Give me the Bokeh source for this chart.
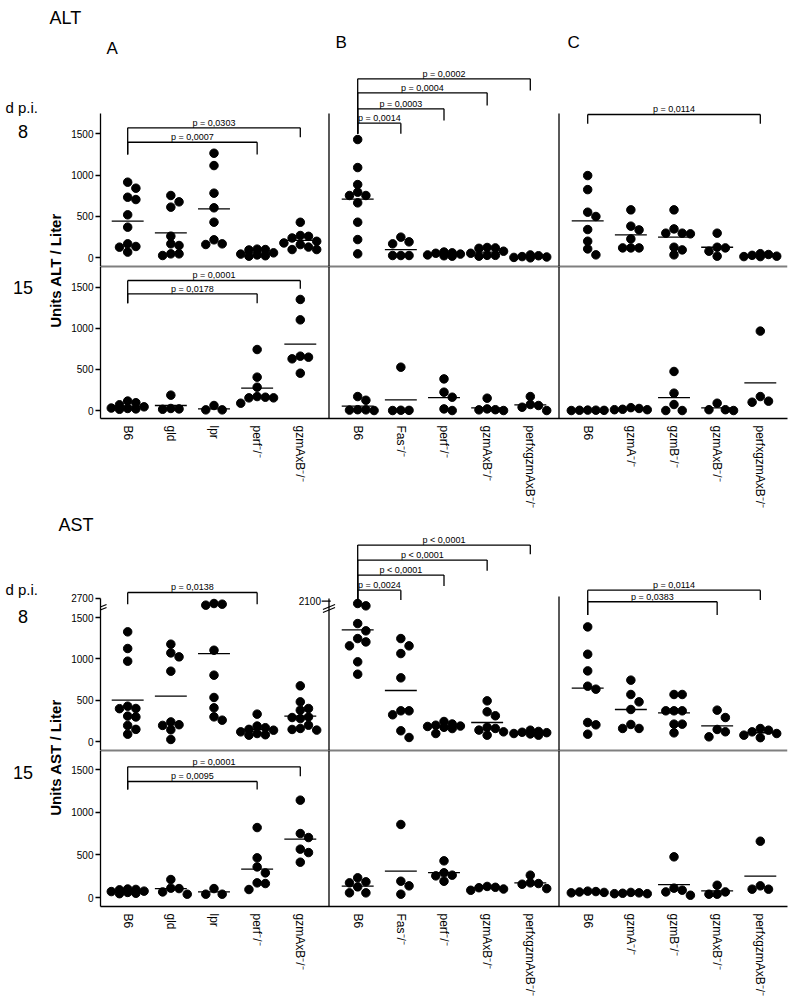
import math
from bokeh.plotting import figure
from bokeh.models import FactorRange, Range1d, ColumnDataSource, Span, FixedTicker, Arrow
from bokeh.layouts import column, row
from bokeh.core.properties import value
from bokeh.embed import file_html
from bokeh.resources import INLINE

# ---------------------------------------------------------------- data
GROUPS = ["A", "B", "C"]
CATS = {
    "A": ["B6", "gld", "lpr", "perf⁻/⁻", "gzmAxB⁻/⁻"],
    "B": ["B6", "Fas⁻/⁻", "perf⁻/⁻", "gzmAxB⁻/⁻", "perfxgzmAxB⁻/⁻"],
    "C": ["B6", "gzmA⁻/⁻", "gzmB⁻/⁻", "gzmAxB⁻/⁻", "perfxgzmAxB⁻/⁻"],
}
Y_TICKS = [0, 500, 1000, 1500]

# ALT, day 8
ALT8_A = [[915, 842, 733, 705, 520, 371, 169, 137, 129, 69],
          [754, 677, 613, 262, 169, 149, 48, 28, 48],
          [1265, 1116, 782, 605, 431, 218, 161, 169],
          [105, 95, 100, 60, 45, 35, 25, 20],
          [430, 270, 260, 240, 200, 180, 160, 130, 100, 100]]
ALT8_B = [[1431, 1092, 886, 794, 754, 754, 665, 431, 221, 48],
          [193, 169, 250, 28, 28, 28],
          [70, 60, 55, 45, 35, 25, 20],
          [125, 115, 120, 80, 55, 30, 20, 30],
          [35, 25, 15, 10, 5, 0]]
ALT8_C = [[995, 825, 552, 500, 342, 201, 108, 36],
          [580, 383, 338, 229, 120, 120, 120],
          [580, 350, 298, 290, 298, 128, 96, 36],
          [298, 128, 120, 80, 20],
          [50, 40, 30, 20, 15, 15]]
ALT8_MEAN_A = [443, 302, 592, 60, 210]
ALT8_MEAN_B = [709, 100, 44, 68, 15]
ALT8_MEAN_C = [447, 278, 250, 128, 28]

# ALT, day 15
ALT15_A = [[115, 95, 70, 45, 30, 25, 20, 15],
           [187, 25, 15, 20],
           [61, 8, 8],
           [742, 406, 284, 170, 162, 154, 154, 89],
           [1351, 1103, 661, 649, 629, 454]]
ALT15_B = [[170, 125, 10, 0, 5, 8],
           [527, 3, 0, 2],
           [385, 223, 162, 20, 0],
           [150, 20, 10, 8, 0],
           [170, 73, 61, 40, 0]]
ALT15_C = [[5, 3, 2, 0, 4],
           [35, 25, 15, 10, 10],
           [475, 211, 73, 0, 0],
           [89, 10, 10, 0],
           [966, 170, 114, 101]]
ALT15_MEAN_A = [53, 61, 20, 272, 807]
ALT15_MEAN_B = [53, 130, 158, 32, 69]
ALT15_MEAN_C = [3, 20, 158, 32, 337]

# AST, day 8
AST8_A = [[1327, 1126, 973, 430, 402, 400, 310, 300, 197, 150, 92],
          [1178, 1073, 1025, 852, 240, 206, 198, 145, 28],
          [2185, 2115, 2015, 1105, 804, 535, 410, 301, 261],
          [334, 190, 170, 150, 140, 120, 100, 85, 80],
          [675, 482, 402, 382, 300, 293, 280, 200, 161, 149, 141]]
AST8_B = [[1956, 1811, 1427, 1339, 1246, 1206, 1158, 965, 816],
          [1246, 1158, 1065, 772, 374, 374, 326, 133, 52],
          [245, 215, 200, 190, 185, 175, 160, 100],
          [494, 362, 314, 175, 161, 141, 120, 80],
          [140, 125, 115, 110, 100, 95, 80]]
AST8_C = [[1387, 1057, 856, 671, 635, 233, 205, 92],
          [744, 571, 482, 390, 209, 161, 161],
          [571, 571, 374, 374, 374, 213, 213, 108],
          [382, 293, 149, 121, 60],
          [160, 140, 120, 100, 80, 50]]
AST8_MEAN_A = [502, 551, 1065, 149, 310]
AST8_MEAN_B = [1351, 619, 189, 233, 109]
AST8_MEAN_C = [647, 390, 350, 193, 109]

# AST, day 15
AST15_A = [[100, 95, 90, 75, 70, 60, 50, 45],
           [211, 110, 105, 66, 39],
           [105, 39, 39],
           [820, 465, 359, 289, 172, 164, 94],
           [1141, 750, 703, 567, 527, 414]]
AST15_B = [[231, 184, 172, 125, 55, 55],
           [856, 191, 137, 39],
           [430, 290, 262, 254, 191],
           [130, 120, 115, 100, 85],
           [262, 172, 164, 156, 105]]
AST15_C = [[75, 70, 65, 60, 55],
           [60, 55, 50, 45, 45],
           [477, 110, 86, 66, 27],
           [144, 66, 39, 39],
           [660, 137, 98, 98]]
AST15_MEAN_A = [74, 105, 66, 332, 684]
AST15_MEAN_B = [133, 309, 293, 113, 172]
AST15_MEAN_C = [66, 51, 152, 78, 250]

# AST day 8 broken axis: values above 1600 are compressed up to the top label
BREAK_AT = 1600
AST8_BREAK = {"A": (2700, 1730), "B": (2100, 1697)}

# significance brackets: group, from, to, bracket level, leg end, label
ALT8_BR = [("A", 0, 4, 1573, 1459, "p = 0,0303"),
           ("A", 0, 3, 1398, 1249, "p = 0,0007"),
           ("B", 0, 4, 2165, 2024, "p = 0,0002"),
           ("B", 0, 3, 1996, 1842, "p = 0,0004"),
           ("B", 0, 2, 1802, 1661, "p = 0,0003"),
           ("B", 0, 1, 1629, 1500, "p = 0,0014"),
           ("C", 0, 4, 1734, 1621, "p = 0,0114")]
ALT15_BR = [("A", 0, 4, 1582, 1481, "p = 0,0001"),
            ("A", 0, 3, 1420, 1306, "p = 0,0178")]
AST8_BR = [("A", 0, 3, 1802, 1661, "p = 0,0138"),
           ("B", 0, 4, 2374, 2265, "p < 0,0001"),
           ("B", 0, 3, 2193, 2064, "p < 0,0001"),
           ("B", 0, 2, 2012, 1879, "p < 0,0001"),
           ("B", 0, 1, 1830, 1710, "p = 0,0024"),
           ("C", 0, 4, 1830, 1710, "p = 0,0114"),
           ("C", 0, 3, 1690, 1529, "p = 0,0383")]
AST15_BR = [("A", 0, 4, 1532, 1422, "p = 0,0001"),
            ("A", 0, 3, 1360, 1266, "p = 0,0095")]

# ---------------------------------------------------------------- layout
FONT = "Liberation Sans"
FW = 687
PAD = 0.13
GPAD = 0.33
UNITS = 15 + 2 * GPAD + 2 * PAD
XPX = FW / UNITS
XA = -PAD
XB = 5 + GPAD / 2
XC = 10 + 1.5 * GPAD
LW = 1.3


def make_xrange():
    return FactorRange(factors=[(g, c) for g in GROUPS for c in CATS[g]],
                       group_padding=GPAD, factor_padding=0.0,
                       range_padding=PAD, range_padding_units="absolute")


def swarm(vals, pxu, step=0.19, dmin=7.5):
    cands = [0.0, step, -step, 2 * step, -2 * step]
    placed = []
    res = [0.0] * len(vals)
    for i in sorted(range(len(vals)), key=lambda k: -vals[k]):
        ypx = vals[i] * pxu
        best, bestd = 0.0, -1.0
        for c in cands:
            d = min([math.hypot((c - xo) * XPX, ypx - yp) for xo, yp in placed] or [1e9])
            if d >= dmin:
                best = c
                break
            if d > bestd:
                best, bestd = c, d
        placed.append((best, ypx))
        res[i] = best
    return res


def data_fig(xr, y0, y1, fh, bottom, xaxis):
    p = figure(x_range=xr, y_range=Range1d(y0, y1), frame_width=FW, frame_height=fh,
               min_border_left=34, min_border_right=5, min_border_top=0,
               min_border_bottom=bottom,
               x_axis_location="below" if xaxis else None, y_axis_location="left",
               toolbar_location=None, tools="", output_backend="svg")
    p.outline_line_color = None
    p.xgrid.visible = False
    p.ygrid.visible = False
    if xaxis:
        xa = p.xaxis[0]
        xa.major_label_orientation = -math.pi / 2
        xa.major_tick_out = 0
        xa.major_tick_in = 0
        xa.major_label_standoff = 7
        xa.major_label_text_font = FONT
        xa.major_label_text_font_size = "12px"
        xa.major_label_text_color = "black"
        xa.group_text_font_size = "0px"
        xa.group_text_color = None
        xa.separator_line_color = None
        xa.axis_line_width = LW
    return p


def style_y(p, ticks, bounds=None, overrides=None):
    ya = p.yaxis[0]
    ya.ticker = FixedTicker(ticks=ticks)
    if bounds is not None:
        ya.bounds = bounds
    if overrides:
        ya.major_label_overrides = overrides
    ya.major_tick_out = 5
    ya.major_tick_in = 0
    ya.minor_tick_out = 0
    ya.minor_tick_in = 0
    ya.major_label_standoff = 2
    ya.major_label_text_font = FONT
    ya.major_label_text_font_size = "10px"
    ya.major_label_text_color = "black"
    ya.axis_line_width = LW
    ya.major_tick_line_width = LW


def plot_points(p, panels, means, pxu, tf=None):
    xs, ys, x0, x1, ly = [], [], [], [], []
    for g in GROUPS:
        for i, c in enumerate(CATS[g]):
            vals = [tf(g, v) if tf else v for v in panels[g][i]]
            for v, o in zip(vals, swarm(vals, pxu)):
                xs.append((g, c, o))
                ys.append(v)
            x0.append((g, c, -0.37))
            x1.append((g, c, 0.37))
            ly.append(means[g][i])
    p.segment(x0="x0", y0="y", x1="x1", y1="y", line_color="black", line_width=LW,
              source=ColumnDataSource(dict(x0=x0, x1=x1, y=ly)))
    p.scatter(x="x", y="y", size=8.5, marker="circle", fill_color="black", line_color="black",
              source=ColumnDataSource(dict(x=xs, y=ys)))


def brackets(p, brs):
    low = {}
    for g, i0, i1, yl, yb, t in brs:
        low[g] = min(low.get(g, 1e9), yb)
    sx0, sy0, sx1, sy1, tx, ty, tt = [], [], [], [], [], [], []
    for g, i0, i1, yl, yb, t in brs:
        a = (g, CATS[g][i0])
        b = (g, CATS[g][i1])
        sx0 += [a, a, b]
        sy0 += [yl, low[g], yb]
        sx1 += [b, a, b]
        sy1 += [yl, yl, yl]
        tx.append((g, CATS[g][i0], (i1 - i0) / 2))
        ty.append(yl)
        tt.append(t)
    p.segment(x0="x0", y0="y0", x1="x1", y1="y1", line_color="black", line_width=LW,
              source=ColumnDataSource(dict(x0=sx0, y0=sy0, x1=sx1, y1=sy1)))
    p.text(x="x", y="y", text="t", source=ColumnDataSource(dict(x=tx, y=ty, t=tt)),
           text_font=value(FONT), text_font_size="9px", text_align="center",
           text_baseline="bottom", y_offset=0, text_color="black")


def dividers_top(p, y0, tops):
    p.segment(x0=[XB, XC], y0=[y0, y0], x1=[XB, XC], y1=tops, line_color="black", line_width=LW)
    p.add_layout(Span(location=y0, dimension="width", line_color="black", line_width=LW))


def dividers_bottom(p, y1):
    for x in (XB, XC):
        p.add_layout(Span(location=x, dimension="height", line_color="black", line_width=LW))
    p.add_layout(Span(location=y1, dimension="width", line_color="black", line_width=LW))


def text_fig(x0, y0, w, h):
    p = figure(width=w, height=h, x_range=Range1d(x0, x0 + w), y_range=Range1d(y0 + h, y0),
               min_border=0, x_axis_location=None, y_axis_location=None,
               toolbar_location=None, tools="", output_backend="svg")
    p.outline_line_color = None
    p.xgrid.visible = False
    p.ygrid.visible = False
    return p


def txt(p, x, y, s, size, align="left", bold=False, angle=0.0):
    # y is the vertical centre of the text
    p.text(x=[x], y=[y], text=[s], text_font=value(FONT), text_font_size=size,
           text_align=align, text_baseline="middle", angle=angle, text_color="black",
           text_font_style="bold" if bold else "normal")


def ast_break(g, v):
    if g in AST8_BREAK and v > BREAK_AT:
        top, lin = AST8_BREAK[g]
        return BREAK_AT + (v - BREAK_AT) * (lin - BREAK_AT) / (top - BREAK_AT)
    return v


xr = make_xrange()

# ---------------- ALT block
hdr_alt = text_fig(0, 0, 792, 60)
txt(hdr_alt, 49, 17, "ALT", "18px")
txt(hdr_alt, 106, 48, "A", "17px")
txt(hdr_alt, 335, 42, "B", "17px")
txt(hdr_alt, 567, 42, "C", "17px")

strip_alt = text_fig(0, 60, 66, 448)
txt(strip_alt, 5, 106.5, "d p.i.", "15px")
txt(strip_alt, 22.5, 131, "8", "18px", align="center")
txt(strip_alt, 22.5, 287, "15", "18px", align="center")
txt(strip_alt, 55, 270, "Units ALT / Liter", "15px", align="center",
    bold=True, angle=math.pi / 2)

a8y0, a8y1, a8h = -105, 2387, 206
f_alt8 = data_fig(xr, a8y0, a8y1, a8h, 0, False)
style_y(f_alt8, Y_TICKS, bounds=(a8y0, 1746))
dividers_top(f_alt8, a8y0, [1746, 1746])
plot_points(f_alt8, {"A": ALT8_A, "B": ALT8_B, "C": ALT8_C},
            {"A": ALT8_MEAN_A, "B": ALT8_MEAN_B, "C": ALT8_MEAN_C}, a8h / (a8y1 - a8y0))
brackets(f_alt8, ALT8_BR)

a15y0, a15y1, a15h = -97, 1752, 152
f_alt15 = data_fig(xr, a15y0, a15y1, a15h, 90, True)
style_y(f_alt15, Y_TICKS)
dividers_bottom(f_alt15, a15y1)
plot_points(f_alt15, {"A": ALT15_A, "B": ALT15_B, "C": ALT15_C},
            {"A": ALT15_MEAN_A, "B": ALT15_MEAN_B, "C": ALT15_MEAN_C}, a15h / (a15y1 - a15y0))
brackets(f_alt15, ALT15_BR)

# ---------------- AST block
hdr_ast = text_fig(0, 508, 792, 22)
txt(hdr_ast, 58, 521, "AST", "18px")

strip_ast = text_fig(0, 530, 66, 465)
txt(strip_ast, 5, 585.5, "d p.i.", "15px")
txt(strip_ast, 22.5, 612.5, "8", "18px", align="center")
txt(strip_ast, 22.5, 768.5, "15", "18px", align="center")
txt(strip_ast, 55, 754, "Units AST / Liter", "15px", align="center",
    bold=True, angle=math.pi / 2)

s8y0, s8y1, s8h = -105, 2514, 217
top_a = AST8_BREAK["A"][1]
f_ast8 = data_fig(xr, s8y0, s8y1, s8h, 0, False)
style_y(f_ast8, Y_TICKS + [top_a], bounds=(s8y0, top_a),
        overrides={top_a: str(AST8_BREAK["A"][0])})
dividers_top(f_ast8, s8y0, [top_a, 1754])
plot_points(f_ast8, {"A": AST8_A, "B": AST8_B, "C": AST8_C},
            {"A": AST8_MEAN_A, "B": AST8_MEAN_B, "C": AST8_MEAN_C}, s8h / (s8y1 - s8y0),
            tf=ast_break)
brackets(f_ast8, AST8_BR)
# break marks on the A and B axes, and the B top tick
for xc in (XA, XB):
    for yc in (1627, 1591):
        f_ast8.add_layout(Arrow(start=None, end=None, x_start=xc - 0.14, y_start=yc - 30,
                                x_end=xc + 0.14, y_end=yc + 30, line_color="black", line_width=1.1))
b_top = AST8_BREAK["B"][1]
f_ast8.add_layout(Arrow(start=None, end=None, x_start=XB - 0.17, y_start=b_top,
                        x_end=XB + 0.04, y_end=b_top, line_color="black", line_width=LW))
f_ast8.text(x=[XB], y=[b_top], text=[str(AST8_BREAK["B"][0])], x_offset=-8,
            text_font=value(FONT), text_font_size="10px", text_align="right",
            text_baseline="middle", text_color="black")

s15y0, s15y1, s15h = -105, 1723, 156
f_ast15 = data_fig(xr, s15y0, s15y1, s15h, 92, True)
style_y(f_ast15, Y_TICKS)
dividers_bottom(f_ast15, s15y1)
plot_points(f_ast15, {"A": AST15_A, "B": AST15_B, "C": AST15_C},
            {"A": AST15_MEAN_A, "B": AST15_MEAN_B, "C": AST15_MEAN_C}, s15h / (s15y1 - s15y0))
brackets(f_ast15, AST15_BR)

layout = column(hdr_alt,
                row(strip_alt, column(f_alt8, f_alt15)),
                hdr_ast,
                row(strip_ast, column(f_ast8, f_ast15)))

open("out.html", "w").write(file_html(layout, INLINE))
